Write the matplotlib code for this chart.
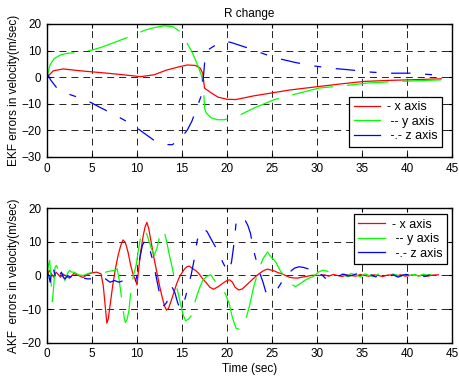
import matplotlib
matplotlib.use('Agg')
from matplotlib import pyplot as plt
from matplotlib.lines import Line2D

# EKF errors (top plot)
ekf_t_x = [0, 0.7, 1.8, 3.7, 6.7, 8.5, 10.4, 11.9, 13.3, 14.8, 15.6, 16.5, 17.0, 17.3, 17.5, 18.2, 19.0, 20.0, 21.0, 23.0,
           25.2, 27.0, 30.2, 33.0, 35.2, 38.0, 40.2, 42.0, 43.8]
ekf_x = [0, 2.4, 3.1, 2.4, 1.5, 0.9, 0.2, 0.9, 2.7, 4.0, 4.6, 4.4, 3.5, 1.5, -4.1, -5.8, -7.5, -8.3, -8.4, -7.0,
         -5.8, -4.8, -3.5, -2.4, -1.6, -1.2, -1.0, -0.8, -0.6]

ekf_t_y = [0, 0.33, 0.8, 1.5, 2.3, 3.3, 5.0, 6.0, 7.2, 8.3, 9.4, 10.2, 10.9, 12.0, 13.0, 14.0, 14.8, 15.2, 15.6, 16.1,
           16.8, 17.2, 17.4, 17.5, 17.7, 18.2, 18.9, 19.7, 20.4, 21.5, 23.0, 25.2, 27.3, 30.2, 33.8, 35.6, 39.0, 43.8]
ekf_y = [0, 4.6, 7.0, 8.4, 9.0, 9.2, 10.2, 11.2, 12.7, 14.1, 15.6, 16.7, 17.7, 18.7, 19.3, 19.0, 17.1, 15.0, 12.5, 9.6,
         4.0, 0.2, -4.8, -11.6, -13.5, -15.2, -16, -16, -15.4, -14.1, -11.6, -8.5, -6.6, -4.1, -2.9, -2.2, -1.6, -1.0]

ekf_t_z = [0, 0.4, 1.1, 1.9, 2.6, 3.3, 4.0, 4.8, 5.8, 6.8, 7.6, 8.3, 9.0, 9.7, 10.4, 11.3, 12.2, 13.1, 13.9, 14.6,
           15.1, 15.6, 16.1, 16.5, 17.1, 17.4, 17.6, 18.0, 18.6, 19.1, 19.7, 20.5, 21.3, 22.4, 23.4, 25.0, 25.6, 27.5,
           29.3, 31.5, 33.8, 36.0, 38.2, 40.5, 42.9]
ekf_z = [1.5, -1.0, -4.1, -5.5, -6.6, -7.4, -8.4, -9.4, -11.2, -12.9, -14.3, -15.6, -16.9, -18.4, -20.1, -22.3, -24.5,
         -25.3, -25.4, -23.9, -22.0, -19.8, -16.5, -12.9, -7.3, 0.9, 9.0, 10.5, 11.8, 12.7, 13.6, 13.0, 12.1, 10.9, 9.6,
         7.7, 7.1, 5.6, 4.4, 3.4, 2.7, 1.9, 1.5, 1.5, 0.9]

# AKF errors (bottom plot)
akf_t_x = [0, 0.25, 0.5, 0.75, 1.0, 1.25, 1.5, 1.75, 2.0,
           2.5, 3.0, 3.5, 4.0, 4.5, 5.0, 5.5, 6.0,
           6.25, 6.5, 6.65, 6.8, 7.0, 7.3, 7.6, 7.9, 8.2, 8.45, 8.7, 9.0, 9.3, 9.6, 9.85, 10.0, 10.15, 10.4, 10.7,
           10.9, 11.1, 11.3, 11.6, 11.9, 12.2, 12.5, 12.8, 13.05, 13.27, 13.5, 13.8, 14.1, 14.4, 14.7, 15.0, 15.3,
           15.55, 15.8,
           16.1, 16.5, 16.9, 17.3, 17.7, 18.1, 18.5, 18.9, 19.3, 19.7,
           20.0, 20.3, 20.6, 20.9,
           21.3, 21.7, 22.1, 22.5, 22.9, 23.3, 23.7, 24.1, 24.5, 24.9, 25.3, 25.7, 26.1, 26.5, 26.9, 27.3,
           27.8, 28.3, 28.8, 29.3, 29.8, 30.3, 30.8, 31.3, 31.8, 32.3, 32.8, 33.3, 33.8, 34.3, 34.8, 35.3, 35.8,
           36.3, 36.8, 37.3, 37.8, 38.3, 38.8, 39.3, 39.8, 40.3, 40.8, 41.3, 41.8, 42.3, 42.8,
           43.5]
akf_x = [0, 1.5, 0.5, -0.5, 1, 0.3, -0.5, 0.5, 0,
         -0.8, 0.6, 0, -0.6, 0.3, 0.8, 1, 0.5,
         -3, -10, -14.2, -13, -9, -3, 2, 6, 9, 10.6, 9.8, 7, 3, 0, -1.5, -2.8, 1, 7, 12,
         14.5, 15.8, 14, 9.5, 5, 1, -3, -6.5, -9, -10.3, -9.8, -7.5, -5, -2.5, -0.5, 0.8, 2,
         2.6, 2.8,
         2.2, 1.5, 0.5, -1, -2.2, -3.5, -4.1, -3.5, -2.8, -2,
         -1.5, -1.3, -2, -3.5,
         -4.3, -4, -3, -2, -1, 0, 0.8, 1.5, 1.9, 1.6, 1.3, 0.8, 0.5, 0, -0.5, -0.7,
         -0.8, -0.5, -0.3, 0, 0.1, 0, 0.2, -0.2, 0.3, 0, -0.3, 0.2, 0, -0.2, 0.3, 0, -0.2,
         0.2, 0, -0.3, 0.1, 0.2, -0.1, 0.2, -0.2, 0, 0.2, -0.1, 0.1, -0.2, 0.1,
         0.2]

akf_t_y = [0, 0.15, 0.3, 0.45, 0.6, 0.75, 0.9, 1.05, 1.2, 1.35, 1.5, 1.75, 2.0, 2.25, 2.5, 2.75, 3.0, 3.5, 4.0, 4.5,
           5.0, 5.5, 6.0, 6.5, 7.0, 7.5, 7.8, 8.0, 8.2, 8.4, 8.55, 8.7, 8.9, 9.1, 9.3, 9.6, 9.9, 10.1, 10.3, 10.5,
           10.8, 11.0, 11.3, 11.6, 11.9, 12.2, 12.5, 12.8, 13.0, 13.3, 13.6, 13.9, 14.2, 14.5, 14.8, 15.1, 15.4, 15.7,
           16.1, 16.5, 16.9, 17.3, 17.7, 18.2, 18.7, 19.2, 19.7, 20.2, 20.6, 21.0, 21.3, 21.9, 22.5, 23.0, 23.5, 24.0,
           24.5, 24.9, 25.4, 25.9, 26.3, 26.7, 27.1, 27.6, 28.1, 28.6, 29.1, 29.6, 30.2, 30.7, 31.2, 31.7, 32.3, 32.8,
           33.3, 33.8, 34.3, 34.8, 35.3, 35.8, 36.3, 36.8, 37.3, 37.8, 38.3, 38.8, 39.3, 39.8, 40.3, 40.8, 41.3, 41.8,
           42.3, 42.8, 43.5]
akf_y = [0, 3, 4.5, -2, -7.8, -3, 2.5, 3, 2, -0.5, -1, 0, -1.5, 0.5, 1.5, 1, 1, 0.2, 0, 0.5,
         1, 1.5, 1.2, 1, 1.3, 1.5, 2, -1, -5, -9, -12, -14, -13, -10.5, -5, 0, 3, 6.6, 10, 12,
         13.7, 13, 10.5, 8, 6, 8, 11.5, 13.2, 13.5, 10, 6, 2.5, -1.5, -4.5, -8, -11.5, -13.5, -13,
         -11.8, -7.3, -4, -1.5, -0.3, 0.2, -1.8, -3.5, -4.8, -8, -12.5, -15.7, -16, -15, -9, -3, 1.5, 5,
         7, 5.5, 4.1, 1.5, 0, -1.2, -2.5, -3.3, -2.5, -1.5, -0.8, -0.3, 1.1, 1.6, 1.2, 0.8, 1.2, 0.5,
         -0.3, 0.6, 0.2, -0.4, 0.5, 0, -0.3, 0.4, 0.1, -0.2, 0.5, 0.2, -0.3, 0.4, 0, 0.3, -0.2, 0.4,
         0.1, 0.3, 0.5]

akf_t_z = [0, 0.2, 0.35, 0.5, 0.65, 0.8, 1.0, 1.2, 1.4, 1.6, 1.8, 2.0, 2.3, 2.6,
           3.0, 3.5, 4.0, 4.5, 5.0, 5.5, 6.0, 6.5, 7.0, 7.5, 8.0, 8.5, 9.0, 9.5, 9.8,
           10.0, 10.3, 10.6, 10.9, 11.2, 11.5, 11.8, 12.1, 12.4, 12.7, 13.0, 13.3, 13.6, 13.9, 14.2, 14.5, 14.8,
           15.1, 15.4, 15.7, 16.0, 16.3,
           16.7, 17.0, 17.4, 17.8, 18.2, 18.7, 19.1, 19.5, 19.9, 20.2, 20.5, 20.8, 21.0, 21.5, 21.9, 22.3, 22.6,
           23.0, 23.3, 23.6, 24.0, 24.3, 24.7, 25.2, 25.6, 26.0, 26.5, 27.0, 27.5, 28.0, 28.5, 29.0, 29.3, 29.7, 30.0,
           30.5, 31.0, 31.5, 32.0, 32.5, 33.0, 33.5, 34.0, 34.5, 35.0, 35.5, 36.0, 36.5, 37.0, 37.5, 38.0, 38.5,
           39.0, 39.5, 40.0, 40.5, 41.0, 41.5, 42.0, 42.5, 43.0, 43.5]
akf_z = [1, 0, -2, 1, 3, 1, -1, -2, 0, 1, -0.5, -1, 0, -0.5,
         0.5, 0, -0.8, -1, -1, -1.5, -1.5, -1, -2, -1.5, -2, -1.5, -2, -1.5, -2,
         0, 5, 9, 10.5, 10, 7, 4, 0, -4, -8, -9, -8, -5, -3.5, -5, -8, -10, -9, -6.3, -3, 0, 4,
         10.6, 12.5, 14, 13, 11, 8.6, 6.5, 4.1, 2, 1.1, 4, 10, 15.5, 17.5, 17, 15, 12.6,
         7, 4, 1.1, -2, -4.8, -5.5, -5.3, -4, -2.3, 0, 1.1, 2.2, 2.6, 2.4, 2.0, 1.6, 1, 0,
         0.3, -1, -1.5, -0.5, 0, 0.4, -0.2, 0.1, 0.6, -0.3, 0, 0.2, -0.4, 0.1, 0.3, -0.2, 0.2,
         -0.5, 0.1, 0.3, -0.2, 0.2, 0, -0.3, 0.2, 0.1, 0.3]

labels = ['- x axis', ' -- y axis', ' -.- z axis']
colors = ['#ff0000', '#00ff00', '#0000ff']

plt.rcParams['font.family'] = ['Liberation Sans', 'DejaVu Sans']
plt.rcParams['font.size'] = 8
plt.rcParams['lines.scale_dashes'] = False

fig = plt.figure(figsize=(4.59, 3.79), dpi=100)

# line styles: y is long dashes, z is dash-dot with long "dots"
styles = ['-', (0, (30, 10)), (1.5, (14, 10.5, 5, 10.5))]


def setup(ax, yticks):
    ax.set_xlim(0, 45)
    ax.set_ylim(yticks[0], yticks[-1])
    ax.set_xticks(range(0, 46, 5))
    ax.set_yticks(yticks)
    ax.grid(True, color='black', linestyle=(0, (5, 3.6)), linewidth=0.6)
    ax.set_axisbelow(True)
    ax.tick_params(direction='in', top=True, right=True, length=3, width=0.8, pad=4, labelsize=8.5)
    for s in ax.spines.values():
        s.set_linewidth(1.0)


def add_legend(ax, loc, anchor):
    handles = [Line2D([], [], color=c, lw=0.9) for c in colors]
    leg = ax.legend(handles, labels, loc=loc, bbox_to_anchor=anchor, borderaxespad=0, fancybox=False,
                    edgecolor='black', framealpha=1, handlelength=2.1, handletextpad=0.6,
                    labelspacing=0.2, borderpad=0.35, fontsize=9)
    leg.get_frame().set_linewidth(0.9)


# EKF plot
ax1 = fig.add_axes([0.1024, 0.5858, 0.8824, 0.3509])
ax1.plot(ekf_t_x, ekf_x, color=colors[0], lw=0.9, linestyle=styles[0])
ax1.plot(ekf_t_y, ekf_y, color=colors[1], lw=0.9, linestyle=styles[1])
ax1.plot(ekf_t_z, ekf_z, color=colors[2], lw=0.9, linestyle=styles[2])
setup(ax1, [-30, -20, -10, 0, 10, 20])
ax1.set_title('R change', fontsize=8.5, pad=5)
ax1.set_ylabel('EKF errors in velocity(m/sec)', fontsize=8.5, labelpad=1)
add_legend(ax1, 'lower right', (0.976, 0.077))

# AKF plot
ax2 = fig.add_axes([0.1024, 0.0958, 0.8824, 0.3546])
ax2.plot(akf_t_x, akf_x, color=colors[0], lw=0.9, linestyle=styles[0])
ax2.plot(akf_t_y, akf_y, color=colors[1], lw=0.9, linestyle=styles[1])
ax2.plot(akf_t_z, akf_z, color=colors[2], lw=0.9, linestyle=styles[2])
setup(ax2, [-20, -10, 0, 10, 20])
ax2.set_xlabel('Time (sec)', fontsize=8.5, labelpad=2)
ax2.set_ylabel('AKF  errors in velocity(m/sec)', fontsize=8.5, labelpad=1)
add_legend(ax2, 'upper right', (0.988, 0.955))

fig.savefig('out.png', dpi=100)
